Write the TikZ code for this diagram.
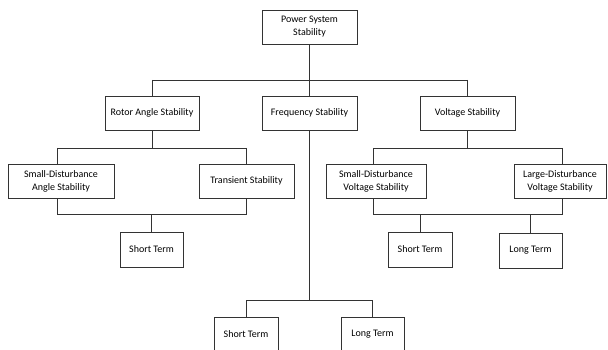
\documentclass[tikz,border=0pt]{standalone}
\usepackage{fontspec}
\setmainfont{Carlito}
\begin{document}
\begin{tikzpicture}[x=1pt,y=-1pt,
  box/.style={draw=black!80, line width=0.8pt, fill=white, inner sep=0pt,
    align=center, minimum height=34pt, font=\fontsize{10}{13}\selectfont},
  link/.style={draw=black!80, line width=0.8pt}]
\clip (0,0) rectangle (608,350);

% level 0
\node[box, minimum width=95pt] (top) at (309.5,27) {Power System\\Stability};
% level 1
\node[box, minimum width=94pt] (rotor) at (152,113) {Rotor Angle Stability};
\node[box, minimum width=95pt] (freq) at (309.5,113) {Frequency Stability};
\node[box, minimum width=95pt] (volt) at (467.5,113) {Voltage Stability};
% level 2
\node[box, minimum width=106pt] (sda) at (61,181) {Small-Disturbance\\Angle Stability};
\node[box, minimum width=95pt] (trans) at (246.5,181) {Transient Stability};
\node[box, minimum width=100pt] (sdv) at (376,181) {Small-Disturbance\\Voltage Stability};
\node[box, minimum width=92pt] (ldv) at (560,181) {Large-Disturbance\\Voltage Stability};
% time frames
\node[box, minimum width=63pt, minimum height=35pt] (rst) at (151.5,249.5) {Short Term};
\node[box, minimum width=64pt, minimum height=35pt] (vst) at (420,249.5) {Short Term};
\node[box, minimum width=63pt, minimum height=35pt] (vlt) at (530.5,250.5) {Long Term};
\node[box, minimum width=64pt, minimum height=35pt] (fst) at (246,334.5) {Short Term};
\node[box, minimum width=63pt, minimum height=35pt] (flt) at (372.5,334.5) {Long Term};

% junction levels
\coordinate (b0) at (0,80);
\coordinate (b1) at (0,148);
\coordinate (b2) at (0,214);
\coordinate (b3) at (0,300);

% top bus
\draw[link] (top.south) -- (top.south |- b0);
\draw[link] (rotor.north |- b0) -- (volt.north |- b0);
\draw[link] (rotor.north |- b0) -- (rotor.north);
\draw[link] (freq.north |- b0) -- (freq.north);
\draw[link] (volt.north |- b0) -- (volt.north);

% rotor angle branch
\coordinate (sdax) at ([xshift=-4pt]sda.north);
\draw[link] (rotor.south) -- (rotor.south |- b1);
\draw[link] (sdax |- b1) -- (trans.north |- b1);
\draw[link] (sdax |- b1) -- (sdax);
\draw[link] (trans.north |- b1) -- (trans.north);
\draw[link] ([xshift=-4pt]sda.south) -- ([xshift=-4pt]sda.south |- b2) -- (trans.south |- b2) -- (trans.south);
\draw[link] (rst.north |- b2) -- (rst.north);

% voltage branch
\coordinate (sdvx) at ([xshift=-3pt]sdv.north);
\coordinate (ldvx) at ([xshift=2pt]ldv.north);
\draw[link] (volt.south) -- (volt.south |- b1);
\draw[link] (sdvx |- b1) -- (ldvx |- b1);
\draw[link] (sdvx |- b1) -- (sdvx);
\draw[link] (ldvx |- b1) -- (ldvx);
\draw[link] ([xshift=-3pt]sdv.south) -- ([xshift=-3pt]sdv.south |- b2) -- ([xshift=2pt]ldv.south |- b2) -- ([xshift=2pt]ldv.south);
\draw[link] (vst.north |- b2) -- (vst.north);
\draw[link] (vlt.north |- b2) -- (vlt.north);

% frequency branch
\draw[link] (freq.south) -- (freq.south |- b3);
\draw[link] (fst.north |- b3) -- (flt.north |- b3);
\draw[link] (fst.north |- b3) -- (fst.north);
\draw[link] (flt.north |- b3) -- (flt.north);
\end{tikzpicture}
\end{document}
